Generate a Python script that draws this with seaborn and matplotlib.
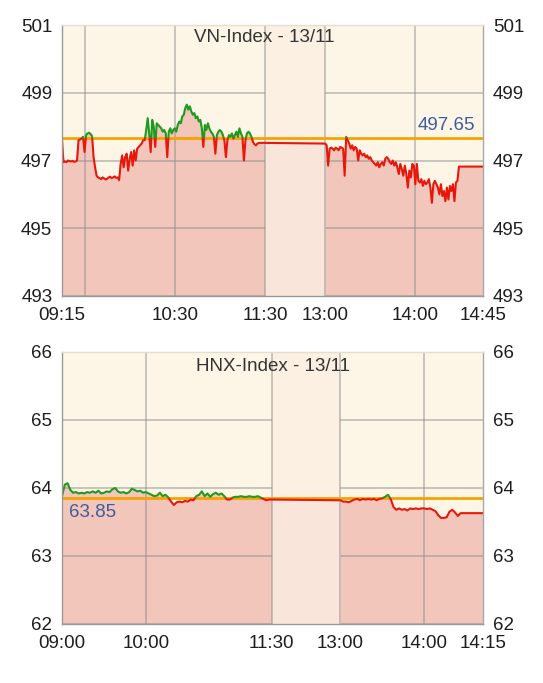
import numpy as np
import pandas as pd
import matplotlib
matplotlib.use("Agg")
import matplotlib.pyplot as plt
from matplotlib.patches import Rectangle
import seaborn as sns

# ---------------- data ----------------
vn_title = "VN-Index - 13/11"
vn_ref = 497.65
vn_ref_label = "497.65"
vn_yticks = [493, 495, 497, 499, 501]
vn_xtick_labels = ["09:15", "10:30", "11:30", "13:00", "14:00", "14:45"]
vn_grid_times = ["09:30", "10:30", "11:30", "13:00", "14:00"]
# one value per minute, 09:15 - 11:30
vn_am = [497.6, 496.95, 496.97, 496.95, 497.0, 496.98, 496.97, 496.99, 496.96, 496.97,
         497.0, 497.6, 497.62, 497.65, 497.7, 497.25, 497.75, 497.8, 497.82, 497.78,
         497.72, 497.1, 496.8, 496.55, 496.5, 496.48, 496.45, 496.5, 496.47, 496.44,
         496.46, 496.5, 496.52, 496.48, 496.5, 496.53, 496.49, 496.5, 496.42, 496.9,
         497.15, 496.8, 497.1, 497.2, 496.7, 497.05, 497.25, 496.85, 497.3, 497.0,
         497.35, 497.4, 497.45, 497.5, 497.6, 497.6, 497.9, 498.25, 497.8, 497.25,
         498.2, 498.0, 497.4, 498.1, 498.05, 498.0, 497.95, 497.85, 497.9, 497.8,
         497.1, 497.85, 497.95, 497.8, 497.9, 497.95, 497.85, 498.05, 498.15, 498.1,
         498.3, 498.35, 498.55, 498.65, 498.5, 498.6, 498.45, 498.35, 498.4, 498.25,
         498.3, 498.15, 498.2, 497.95, 497.4, 498.05, 497.9, 498.1, 497.95, 497.85,
         497.8, 497.7, 497.2, 497.75, 497.85, 497.9, 497.85, 497.75, 497.6, 497.1,
         497.6, 497.75, 497.7, 497.8, 497.65, 497.75, 497.85, 497.7, 497.95, 497.8,
         497.7, 497.0, 497.6, 497.8, 497.85, 497.8, 497.7, 497.55, 497.48, 497.45,
         497.5, 497.52, 497.52, 497.52, 497.52, 497.52]
# one value per minute, 13:00 - 14:45
vn_pm = [497.5, 497.45, 496.85, 497.35, 497.38, 497.35, 497.3, 497.38, 497.35, 497.3,
         497.4, 497.38, 497.35, 496.55, 497.7, 497.6, 497.5, 497.35, 497.45, 497.3,
         497.4, 497.35, 497.0, 497.3, 497.2, 497.15, 497.2, 497.1, 497.15, 497.05,
         497.1, 497.0, 496.95, 496.9, 496.85, 496.95, 496.8, 496.9, 496.95, 496.85,
         497.05, 497.1, 497.05, 496.95, 496.9, 497.0, 496.85, 496.95, 496.8, 496.6,
         496.9, 496.75, 496.55, 496.85, 496.6, 496.2, 496.7, 496.5, 496.9, 496.85,
         496.3, 496.9, 496.4, 496.35, 496.45, 496.25, 496.4, 496.3, 496.35, 496.45,
         496.2, 495.75, 496.3, 496.4, 496.3, 496.2, 496.0, 496.3, 495.95, 496.1,
         495.8, 496.2, 495.85, 496.25, 496.1, 496.3, 495.8, 496.35, 496.4, 496.82,
         496.82, 496.82, 496.82, 496.82, 496.82, 496.82, 496.82, 496.82, 496.82, 496.82,
         496.82, 496.82, 496.82, 496.82, 496.82, 496.82]

hnx_title = "HNX-Index - 13/11"
hnx_ref = 63.85
hnx_ref_label = "63.85"
hnx_yticks = [62, 63, 64, 65, 66]
hnx_xtick_labels = ["09:00", "10:00", "11:30", "13:00", "14:00", "14:15"]
hnx_grid_times = ["10:00", "11:30", "13:00", "14:00"]
# one value per two minutes, 09:00 - 11:30
hnx_am = [63.88, 64.05, 64.07, 63.97, 63.93, 63.94, 63.92, 63.93, 63.92, 63.94,
          63.93, 63.95, 63.93, 63.96, 63.92, 63.93, 63.95, 63.94, 63.98, 64.0,
          63.95, 63.93, 63.94, 63.92, 63.94, 63.99, 63.97, 63.95, 63.96, 63.93,
          63.94, 63.92, 63.9, 63.88, 63.89, 63.93, 63.88, 63.9, 63.86, 63.8,
          63.75, 63.79, 63.8, 63.79, 63.81, 63.8, 63.83, 63.82, 63.88, 63.9,
          63.95, 63.88, 63.92, 63.87, 63.91, 63.93, 63.9, 63.92, 63.88, 63.83,
          63.83, 63.86, 63.87, 63.87, 63.88, 63.87, 63.87, 63.88, 63.87, 63.87,
          63.88, 63.86, 63.84, 63.82, 63.83, 63.83]
# one value per two minutes from 13:00
hnx_pm = [63.82, 63.8, 63.8, 63.79, 63.81, 63.83, 63.84, 63.82, 63.84, 63.83,
          63.84, 63.83, 63.84, 63.82, 63.84, 63.85, 63.87, 63.9, 63.84, 63.72,
          63.68, 63.7, 63.68, 63.69, 63.67, 63.7, 63.69, 63.7, 63.69, 63.7,
          63.7, 63.69, 63.7, 63.68, 63.66, 63.6, 63.56, 63.56, 63.57, 63.65,
          63.68, 63.64, 63.59, 63.63, 63.63, 63.63, 63.63, 63.63, 63.63, 63.63,
          63.63, 63.63]

# ---------------- style ----------------
sns.set_style("white")
plt.rcParams['font.family'] = ['Liberation Sans', 'DejaVu Sans']

BG = "#FDF6E6"
LUNCH_BG = "#FBF0E1"
LUNCH_FILL = "#F9E5D9"
FILL = "#F3C6BB"
GRID = "#8C8C8C"
RED = "#E8170C"
GREEN = "#1E9A1E"
ORANGE = "#F5A300"
BLUE = "#3D5C9E"
TXT = "#1E1E1E"


def hm(s):
    h, m = s.split(":")
    return int(h) * 60 + int(m)


def draw(ax, title, title_x, title_y, open_t, lunch_s, lunch_e, lunch_w, step,
         am, pm, ref, ref_label, ref_side, yticks, xlabels, grid_times):
    morning_w = hm(lunch_s) - hm(open_t)
    pm_start = morning_w + lunch_w

    def pos(t):
        m = hm(t)
        if m <= hm(lunch_s):
            return m - hm(open_t)
        return pm_start + m - hm(lunch_e)

    am_x = np.arange(len(am)) * step
    pm_x = pm_start + np.arange(len(pm)) * step
    xmax = pm_x[-1]
    ylo, yhi = yticks[0], yticks[-1]

    df = pd.DataFrame({"x": np.concatenate([am_x, pm_x]),
                       "y": np.concatenate([am, pm])})

    ax.set_facecolor(BG)
    ax.set_xlim(0, xmax)
    ax.set_ylim(ylo, yhi)

    # area fill under the price line (sessions only)
    ax.fill_between(am_x, ylo, am, color=FILL, lw=0, zorder=1)
    ax.fill_between(pm_x, ylo, pm, color=FILL, lw=0, zorder=1)

    # horizontal grid
    ax.set_axisbelow("line")
    ax.grid(axis="y", color=GRID, lw=1.1, alpha=0.6)
    ax.grid(axis="x", visible=False)

    # lunch break band
    ax.axvspan(morning_w, pm_start, color=LUNCH_BG, lw=0, zorder=1.6)
    ax.fill_between([morning_w, pm_start], ylo, [am[-1], pm[0]],
                    color=LUNCH_FILL, lw=0, zorder=1.65)

    # vertical grid
    for t in grid_times:
        ax.axvline(pos(t), color=GRID, lw=1.1, alpha=0.6, zorder=1.7)

    # reference line
    ax.axhline(ref, color=ORANGE, lw=2.0, zorder=2.5)

    # price line: red below ref, green above
    sns.lineplot(data=df, x="x", y="y", ax=ax, color=RED, lw=1.5,
                 estimator=None, sort=False, zorder=3)
    red_line = ax.lines[-1]
    red_line.set_clip_path(Rectangle((0, ylo), xmax, ref - ylo,
                                     transform=ax.transData))
    sns.lineplot(data=df, x="x", y="y", ax=ax, color=GREEN, lw=1.5,
                 estimator=None, sort=False, zorder=3.1)
    green_line = ax.lines[-1]
    green_line.set_clip_path(Rectangle((0, ref), xmax, yhi - ref,
                                       transform=ax.transData))

    # reference label
    if ref_side == "right":
        ax.annotate(ref_label, xy=(xmax, ref), xytext=(-6, 3),
                    textcoords="offset points", ha="right", va="bottom",
                    color=BLUE, fontsize=13.5, zorder=4)
    else:
        ax.annotate(ref_label, xy=(0, ref), xytext=(5, -4),
                    textcoords="offset points", ha="left", va="top",
                    color=BLUE, fontsize=13.5, zorder=4)

    # title
    ax.text(title_x, title_y, title, transform=ax.transAxes, ha="center",
            va="center", color="#333333", fontsize=13.5, zorder=4)

    # ticks
    xt = [pos(t) for t in xlabels[:-1]] + [xmax]
    ax.set_xticks(xt)
    ax.set_xticklabels(xlabels)
    ax.set_yticks(yticks)
    ax.set_yticklabels([str(v) for v in yticks])
    ax.tick_params(axis="y", which="both", length=0, labelleft=True,
                   labelright=True, labelsize=13.5, colors=TXT, pad=7)
    for lab in ax.get_yticklabels():
        lab.set_color(TXT)
    ax.tick_params(axis="x", length=0, labelsize=13.5, colors=TXT, pad=8)
    ax.set_xlabel("")
    ax.set_ylabel("")

    for side, sp in ax.spines.items():
        sp.set_visible(True)
        sp.set_linewidth(1.0)
        sp.set_zorder(5)
    ax.spines["left"].set_color("#9A9A9A")
    ax.spines["bottom"].set_color("#9A9A9A")
    ax.spines["right"].set_color("#A8A8A8")
    ax.spines["top"].set_color("#E6DECF")


fig = plt.figure(figsize=(5.43, 6.83), dpi=100)
fig.patch.set_facecolor("white")
ax1 = fig.add_axes([62 / 543, 1 - 296 / 683, 421 / 543, 271 / 683])
ax2 = fig.add_axes([62 / 543, 1 - 624 / 683, 421 / 543, 272 / 683])

draw(ax1, vn_title, 0.48, 0.955, "09:15", "11:30", "13:00", 40, 1,
     vn_am, vn_pm, vn_ref, vn_ref_label, "right", vn_yticks,
     vn_xtick_labels, vn_grid_times)
draw(ax2, hnx_title, 0.5, 0.945, "09:00", "11:30", "13:00", 49, 2,
     hnx_am, hnx_pm, hnx_ref, hnx_ref_label, "left", hnx_yticks,
     hnx_xtick_labels, hnx_grid_times)

fig.savefig("out.png", dpi=100, facecolor="white")
